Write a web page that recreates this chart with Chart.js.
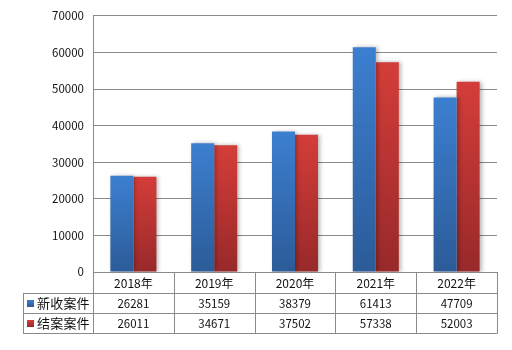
<!DOCTYPE html>
<html><head><meta charset="utf-8">
<script src="https://cdn.jsdelivr.net/npm/chart.js@4/dist/chart.umd.min.js"></script>
<style>html,body{margin:0;padding:0;background:#fff}canvas{display:block}</style>
</head><body>
<canvas id="c" width="512" height="350"></canvas>
<script>
const categories = ['2018年','2019年','2020年','2021年','2022年'];
const seriesNames = ['新收案件','结案案件'];
const newCases = [26281,35159,38379,61413,47709];
const closedCases = [26011,34671,37502,57338,52003];
const yTicks = [0,10000,20000,30000,40000,50000,60000,70000];

const FONT = '"Noto Sans CJK SC","Noto Sans",sans-serif';
const GRID = '#8a8a8a';
const TEXT = '#111';
const blueTop='rgb(60,127,208)', blueBot='rgb(44,91,152)';
const redTop='rgb(212,61,57)', redBot='rgb(152,41,42)';

function barGrad(top, bot){
  return function(ctx){
    const chart = ctx.chart;
    const ys = chart.scales.y;
    if(!ys || ctx.parsed===undefined) return top;
    const y0 = ys.getPixelForValue(ctx.parsed.y), y1 = ys.getPixelForValue(0);
    if(!isFinite(y0)||!isFinite(y1)||y0===y1) return top;
    const g = chart.ctx.createLinearGradient(0,y0,0,y1);
    g.addColorStop(0,top); g.addColorStop(1,bot);
    return g;
  };
}

const shadowPlugin = {
  id:'shadow',
  beforeDatasetsDraw(chart){
    const c=chart.ctx; c.save();
    c.shadowColor='rgba(0,0,0,0.28)'; c.shadowBlur=4; c.shadowOffsetX=2; c.shadowOffsetY=0;
  },
  afterDatasetsDraw(chart){ chart.ctx.restore(); }
};

const tablePlugin = {
  id:'table',
  afterDraw(chart){
    const c=chart.ctx, xs=chart.scales.x, ys=chart.scales.y;
    const L=xs.left, R=xs.right, n=categories.length, w=(R-L)/n;
    const top=Math.round(ys.bottom), rowH=20.3;
    const r1=Math.round(top+21), r2=Math.round(r1+rowH), r3=Math.round(r2+rowH);
    const tl=23;
    c.save();
    c.strokeStyle=GRID; c.lineWidth=1;
    c.beginPath();
    c.moveTo(L,top+0.5); c.lineTo(R,top+0.5);
    [r1,r2,r3].forEach(y=>{c.moveTo(tl,y+0.5); c.lineTo(R+0.5,y+0.5);});
    for(let i=0;i<=n;i++){
      const x=Math.round(L+i*w)+0.5;
      c.moveTo(x,top); c.lineTo(x,r3+0.5);
    }
    c.moveTo(tl+0.5,r1); c.lineTo(tl+0.5,r3+0.5);
    c.stroke();
    const rows=[newCases,closedCases];
    const sw=[[blueTop,blueBot],[redTop,redBot]];
    c.textBaseline='middle';
    rows.forEach((arr,ri)=>{
      const yTop = ri===0?r1:r2, yBot = ri===0?r2:r3;
      const cy=(yTop+yBot)/2+0.5;
      const g=c.createLinearGradient(0,cy-3.5,0,cy+3.5);
      g.addColorStop(0,sw[ri][0]); g.addColorStop(1,sw[ri][1]);
      c.fillStyle=g; c.fillRect(27,cy-3.5,7,7);
      c.fillStyle=TEXT; c.textAlign='left';
      c.font='13px '+FONT;
      let x=37;
      for(const ch of seriesNames[ri]){ c.fillText(ch,x,cy); x+=13.2; }
      c.font='11.5px '+FONT; c.textAlign='center';
      arr.forEach((v,i)=>{ c.fillText(String(v), L+(i+0.5)*w, cy); });
    });
    c.restore();
  }
};

new Chart(document.getElementById('c'),{
  type:'bar',
  data:{
    labels:categories,
    datasets:[
      {label:seriesNames[0],data:newCases,backgroundColor:barGrad(blueTop,blueBot),borderWidth:0},
      {label:seriesNames[1],data:closedCases,backgroundColor:barGrad(redTop,redBot),borderWidth:0}
    ]
  },
  plugins:[shadowPlugin,tablePlugin],
  options:{
    responsive:false,animation:false,devicePixelRatio:1,
    layout:{padding:{left:0,right:15,top:15,bottom:0}},
    plugins:{legend:{display:false},tooltip:{enabled:false}},
    datasets:{bar:{barPercentage:1,categoryPercentage:0.57}},
    scales:{
      x:{
        grid:{display:false,drawTicks:false},
        border:{display:false},
        ticks:{color:TEXT,font:{family:FONT,size:12},padding:4,maxRotation:0},
        afterFit(s){s.height=78;}
      },
      y:{
        min:0,max:70000,
        afterBuildTicks(s){s.ticks=yTicks.map(v=>({value:v}));},
        grid:{color:GRID,lineWidth:1,drawTicks:false},
        border:{display:true,color:GRID,width:1},
        ticks:{color:TEXT,font:{family:FONT,size:11.5},padding:9,callback:v=>String(v)},
        afterFit(s){s.width=93;}
      }
    }
  }
});
</script>
</body></html>
